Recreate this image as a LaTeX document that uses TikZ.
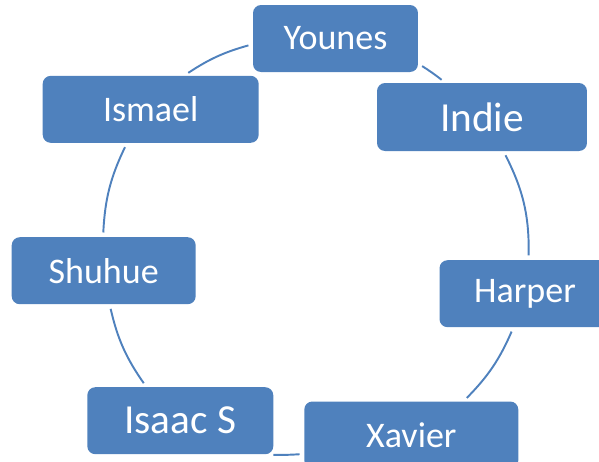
\documentclass[tikz,border=0pt]{standalone}
\usepackage{fontspec}
\setmainfont{Carlito}
\definecolor{boxblue}{RGB}{79,129,189}

\begin{document}
\begin{tikzpicture}[x=0.02cm, y=-0.02cm, thick,
        member/.style={rectangle, fill=boxblue, text=white, rounded corners=0.16cm, minimum height=1.34cm, inner sep=0pt, font=\fontsize{20.5}{24}\selectfont},
        bigmember/.style={member, font=\fontsize{23.5}{28}\selectfont},
        link/.style={draw=boxblue, line width=1.1pt, shorten <=2.3pt, shorten >=2.3pt}]
        \useasboundingbox (0,0) rectangle (599,461);
        \clip (0,0) rectangle (599,461);

        % Nodes
        \node[member, minimum width=3.3cm] (younes) at (335.5,38.5) {Younes};
        \node[bigmember, minimum width=4.2cm, minimum height=1.36cm] (indie) at (482,117) {Indie};
        \node[member, minimum width=3.42cm] (harper) at (525,293.7) {Harper};
        \node[member, minimum width=4.28cm] (xavier) at (411.3,435) {Xavier};
        \node[bigmember, minimum width=3.72cm] (isaac) at (180.3,420.7) {Isaac S};
        \node[member, minimum width=3.68cm] (shuhue) at (103.7,270.7) {Shuhue};
        \node[member, minimum width=4.32cm] (ismael) at (150.7,109.3) {Ismael};

        % Connectors (clockwise)
        \draw[link] (ismael.45) to[bend left=9] (younes.184);
        \draw[link] (younes.-17) to[bend left=3] (indie.137);
        \draw[link] (indie.-58) to[bend left=14] (harper.84);
        \draw[link] (harper.251) to[bend left=10.5] (xavier.33);
        \draw[link] (xavier.190) to[bend left=2] (isaac.-21);
        \draw[link] (isaac.135) to[bend left=11] (shuhue.-80);
        \draw[link] (shuhue.91) to[bend left=11.5] (ismael.235);
    \end{tikzpicture}
\end{document}
